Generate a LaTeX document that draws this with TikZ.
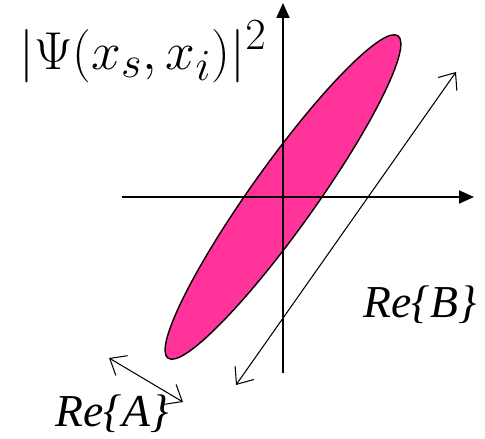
\documentclass[tikz,border=0pt]{standalone}
\usepackage{fontspec}
\setmainfont{Liberation Serif}
\usetikzlibrary{arrows.meta}
\definecolor{blobpink}{RGB}{255,51,153}

\begin{document}
\begin{tikzpicture}[x=0.02cm, y=-0.02cm,
    axis/.style={line width=1.1pt, -{Triangle[length=3mm, width=2.6mm]}},
    span/.style={line width=0.6pt, {Straight Barb[length=2.8mm, width=4.6mm]}-{Straight Barb[length=2.8mm, width=4.6mm]}},
    lbl/.style={font=\fontsize{26}{30}\selectfont\itshape, inner sep=0pt}]
    \useasboundingbox (0,0) rectangle (485,439);
    % distribution
    \fill[blobpink, draw=black, line width=0.8pt, rotate around={54.5:(283,197)}] (283,197) ellipse [x radius=198, y radius=32];
    % axes
    \coordinate (o) at (283,197);
    \coordinate (xl) at (122,197);
    \coordinate (xr) at (474,197);
    \coordinate (yb) at (283,373);
    \coordinate (yt) at (283,3);
    \draw[axis] (xl) -- (xr);
    \draw[axis] (yb) -- (yt);
    % widths
    \coordinate (b1) at (236,385);
    \coordinate (b2) at (456,72);
    \coordinate (a1) at (109,358);
    \coordinate (a2) at (183,402);
    \draw[span] (b1) -- (b2);
    \draw[span] (a1) -- (a2);
    % labels
    \node[inner sep=0pt] (psi) at (143,52) {\scalebox{1.22}{\Huge$|\Psi(x_s,x_i)|^2$}};
    \node[lbl] (reb) at (420,305) {Re\{B\}};
    \node[lbl] (rea) at (112,414) {Re\{A\}};
\end{tikzpicture}
\end{document}
